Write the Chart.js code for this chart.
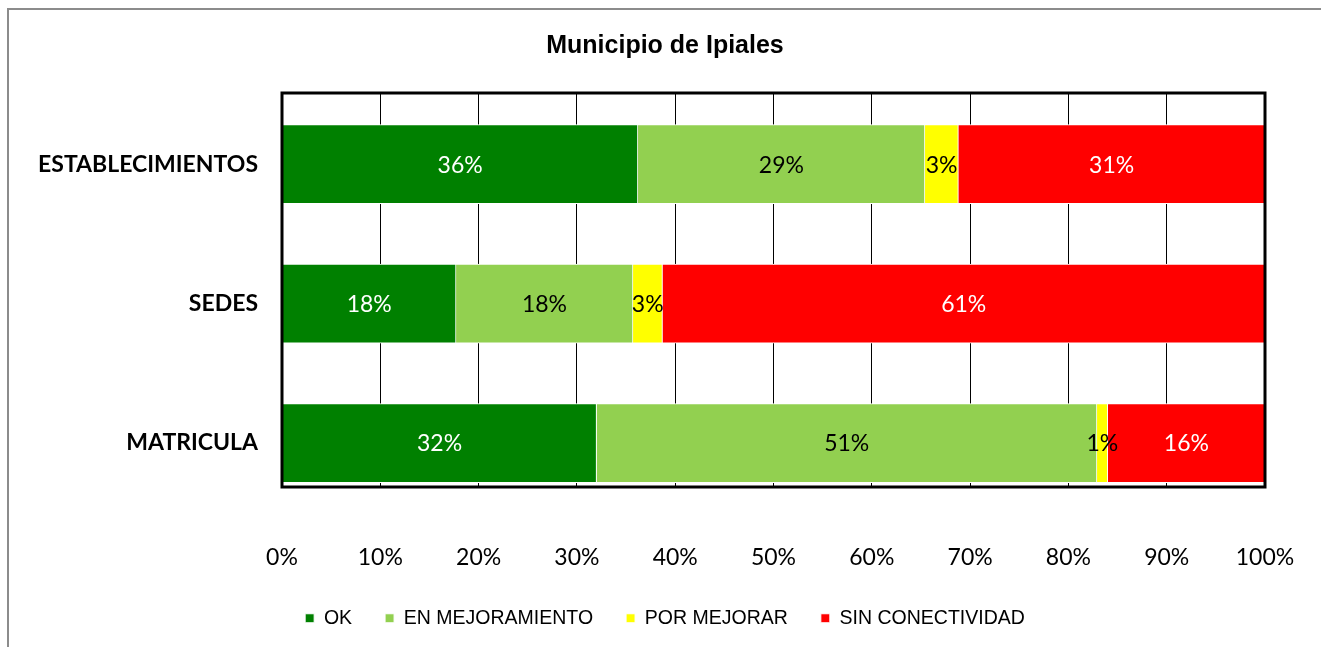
<!DOCTYPE html>
<html>
<head>
<meta charset="utf-8">
<script src="https://cdn.jsdelivr.net/npm/chart.js@4.4.1/dist/chart.umd.min.js"></script>
<style>
  html, body { margin: 0; padding: 0; background: #fff; overflow: hidden; }
  #wrap { width: 1321px; height: 647px; }
  canvas { display: block; }
</style>
</head>
<body>
<div id="wrap"><canvas id="ipialesChart" width="1321" height="647"></canvas></div>
<script>
// categories top to bottom
const categories = ['ESTABLECIMIENTOS', 'SEDES', 'MATRICULA'];
const seriesNames = ['OK', 'EN MEJORAMIENTO', 'POR MEJORAR', 'SIN CONECTIVIDAD'];
const okValues = [36.2, 17.7, 32.0];
const mejoramientoValues = [29.2, 18.0, 50.9];
const porMejorarValues = [3.4, 3.0, 1.1];
const sinConectividadValues = [31.2, 61.3, 16.0];
const xTicks = [0, 10, 20, 30, 40, 50, 60, 70, 80, 90, 100];

const seriesColors = ['#008000', '#92d050', '#ffff00', '#ff0000'];
const labelColors = ['#ffffff', '#000000', '#000000', '#ffffff'];

function toPoints(values) {
    return values.map((v, i) => ({ x: v, y: i }));
}

// outer gray frame + black plot border
const framePlugin = {
    id: 'frames',
    beforeDraw(chart) {
        const ctx = chart.ctx;
        ctx.save();
        ctx.strokeStyle = '#8c8c8c';
        ctx.lineWidth = 2;
        ctx.strokeRect(8, 9, 1400, 700);
        ctx.restore();
    },
    afterDatasetsDraw(chart) {
        const ctx = chart.ctx;
        const a = chart.chartArea;
        ctx.save();
        ctx.strokeStyle = '#000';
        ctx.lineWidth = 3;
        ctx.strokeRect(a.left, a.top, a.right - a.left, a.bottom - a.top);
        ctx.restore();
    }
};

// percent labels in the middle of each segment
const segmentLabels = {
    id: 'segmentLabels',
    afterDatasetsDraw(chart) {
        const ctx = chart.ctx;
        ctx.save();
        ctx.font = '23px Lato';
        ctx.textAlign = 'center';
        ctx.textBaseline = 'middle';
        chart.data.datasets.forEach((ds, di) => {
            const meta = chart.getDatasetMeta(di);
            meta.data.forEach((bar, i) => {
                const val = ds.data[i].x;
                const cx = (bar.x + bar.base) / 2;
                ctx.fillStyle = labelColors[di];
                ctx.fillText(Math.round(val) + '%', cx, bar.y + 1);
            });
        });
        ctx.restore();
    }
};

const allValues = [okValues, mejoramientoValues, porMejorarValues, sinConectividadValues];

const ctx = document.getElementById('ipialesChart').getContext('2d');
const myChart = new Chart(ctx, {
    type: 'bar',
    data: {
        datasets: allValues.map((vals, k) => ({
            label: seriesNames[k],
            data: toPoints(vals),
            backgroundColor: seriesColors[k],
            borderColor: '#ffffff',
            borderWidth: 1,
            barThickness: 79
        }))
    },
    plugins: [framePlugin, segmentLabels],
    options: {
        indexAxis: 'y',
        responsive: false,
        animation: false,
        layout: {
            padding: { left: 9, right: 0, top: 0, bottom: 9 }
        },
        scales: {
            x: {
                type: 'linear',
                stacked: true,
                min: 0,
                max: 100,
                afterBuildTicks: scale => {
                    scale.ticks = xTicks.map(v => ({ value: v }));
                },
                afterFit: scale => {
                    scale.height = 88.5;
                    scale.paddingLeft = 0;
                    scale.paddingRight = 0;
                },
                grid: { color: '#000', lineWidth: 1, drawTicks: false },
                border: { display: false },
                ticks: {
                    padding: 57,
                    color: '#000',
                    font: { family: 'Lato', size: 23 },
                    callback: v => v + '%'
                }
            },
            y: {
                type: 'linear',
                stacked: true,
                reverse: true,
                offset: false,
                min: -0.51,
                max: 2.315,
                afterBuildTicks: scale => {
                    scale.ticks = categories.map((c, i) => ({ value: i }));
                },
                afterFit: scale => { scale.width = 273; },
                grid: { display: false, offset: false },
                border: { display: false },
                ticks: {
                    padding: 16,
                    color: '#000',
                    font: { family: 'Lato', size: 23, weight: 'bold' },
                    callback: v => categories[v]
                }
            },
            // empty right-hand box that keeps the plot's right edge in place
            ySpacer: {
                type: 'linear',
                position: 'right',
                display: true,
                afterFit: scale => { scale.width = 56; },
                grid: { display: false },
                border: { display: false },
                ticks: { display: false }
            }
        },
        plugins: {
            title: {
                display: true,
                text: 'Municipio de Ipiales',
                color: '#000',
                font: { family: 'Liberation Sans', size: 25, weight: 'bold' },
                padding: { top: 31, bottom: 32 }
            },
            legend: {
                position: 'bottom',
                labels: {
                    color: '#000',
                    boxWidth: 9,
                    boxHeight: 9,
                    padding: 33,
                    font: { family: 'Liberation Sans', size: 19.5 }
                }
            },
            tooltip: { enabled: false }
        }
    }
});
</script>
</body>
</html>
